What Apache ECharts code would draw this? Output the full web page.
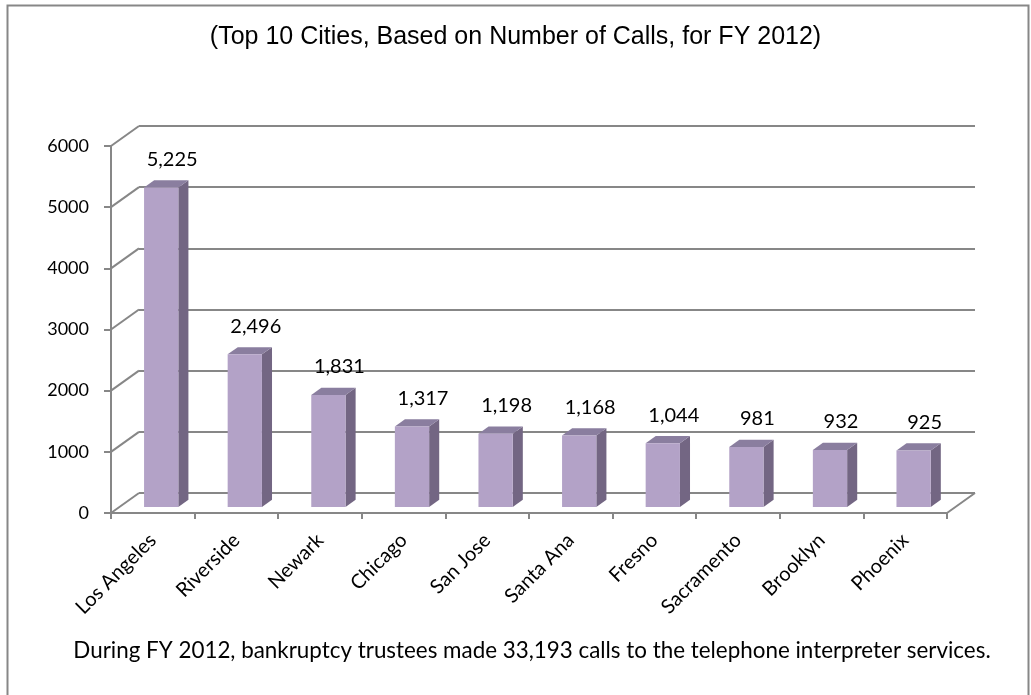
<!DOCTYPE html>
<html>
<head>
<meta charset="utf-8">
<script src="https://cdn.jsdelivr.net/npm/echarts@6/dist/echarts.min.js"></script>
<style>
  html, body { margin: 0; padding: 0; background: #fff; }
  #chart { width: 1031px; height: 695px; }
</style>
</head>
<body>
<div id="chart"></div>
<script>
// Top 10 cities by interpreter calls, FY 2012
const cities = ['Los Angeles', 'Riverside', 'Newark', 'Chicago', 'San Jose',
                'Santa Ana', 'Fresno', 'Sacramento', 'Brooklyn', 'Phoenix'];
const calls = [5225, 2496, 1831, 1317, 1198, 1168, 1044, 981, 932, 925];
const yTicks = [0, 1000, 2000, 3000, 4000, 5000, 6000];
const titleText = '(Top 10 Cities, Based on Number of Calls, for FY 2012)';
const footText = 'During FY 2012, bankruptcy trustees made 33,193 calls to the telephone interpreter services.';

// depth of the pseudo-3D box (back wall offset in px) and where the bars sit inside it
const DX = 28, DY = -20;
const F1 = 0.3, F2 = 0.66;
const LINE = '#878787';
const FONT = 'Lato, "Open Sans", sans-serif';

const chart = echarts.init(document.getElementById('chart'));

function renderBar(params, api) {
  const i = api.value(0), v = api.value(1);
  const base = api.coord([i, 0]);
  const top = api.coord([i, v]);
  const w = api.size([1, 0])[0] * 0.41;
  const ox = DX * F1, oy = DY * F1;
  const sx = DX * (F2 - F1), sy = DY * (F2 - F1);
  const x0 = base[0] + ox - w / 2, x1 = x0 + w;
  const yb = base[1] + oy, yt = top[1] + oy;
  return {
    type: 'group',
    children: [
      { type: 'polygon', shape: { points: [[x1, yt], [x1 + sx, yt + sy], [x1 + sx, yb + sy], [x1, yb]] },
        style: { fill: '#736683' } },
      { type: 'polygon', shape: { points: [[x0, yt], [x1, yt], [x1 + sx, yt + sy], [x0 + sx, yt + sy]] },
        style: { fill: '#8a7e9f' } },
      { type: 'rect', shape: { x: x0, y: yt, width: w, height: yb - yt },
        style: { fill: '#b3a2c7' } },
      { type: 'text', x: x0 + w / 2 + 11, y: yt - 18,
        style: { text: v.toLocaleString('en-US'), fill: '#000', font: '20px ' + FONT,
                 align: 'center', verticalAlign: 'bottom' } }
    ]
  };
}

function renderDepthEdge(params, api) {
  const v = api.value(1);
  const cs = params.coordSys;
  const y = api.coord([0, v])[1];
  const kids = [
    { type: 'line', shape: { x1: cs.x, y1: y, x2: cs.x + DX, y2: y + DY },
      style: { stroke: LINE, lineWidth: 2 } }
  ];
  if (v === 0) {
    const xr = cs.x + cs.width;
    kids.push({ type: 'line', shape: { x1: xr, y1: y, x2: xr + DX, y2: y + DY },
      style: { stroke: LINE, lineWidth: 2 } });
  }
  return { type: 'group', children: kids };
}

chart.setOption({
  animation: false,
  backgroundColor: '#fff',
  title: {
    text: titleText,
    left: 'center',
    top: 20,
    textStyle: { fontFamily: '"Liberation Sans", Arial, sans-serif', fontSize: 25,
                 fontWeight: 'normal', color: '#000' }
  },
  graphic: [
    { type: 'polyline', shape: { points: [[7.5, 695], [7.5, 5.5], [1028.5, 5.5], [1028.5, 695]] },
      style: { stroke: '#878787', lineWidth: 2, fill: null } },
    { type: 'text', x: 532, y: 651,
      style: { text: footText, font: '22.4px ' + FONT, fill: '#000', align: 'center', verticalAlign: 'middle' } }
  ],
  grid: [
    { left: 111, right: 84, top: 146, bottom: 182 },
    { left: 111 + DX, right: 84 - DX, top: 146 + DY, bottom: 182 - DY }
  ],
  xAxis: [
    {
      type: 'category', data: cities, gridIndex: 0,
      axisLine: { lineStyle: { color: LINE, width: 2 } },
      axisTick: { show: true, interval: 0, length: 6, lineStyle: { color: LINE, width: 2 } },
      axisLabel: { interval: 0, rotate: 45, margin: 24, color: '#000', fontSize: 20, fontFamily: FONT },
      splitLine: { show: false }
    },
    { type: 'category', data: cities, gridIndex: 1, show: false }
  ],
  yAxis: [
    {
      type: 'value', gridIndex: 0, min: 0, max: 6000, interval: 1000,
      axisLine: { show: true, lineStyle: { color: LINE, width: 2 } },
      axisTick: { show: true, length: 7, lineStyle: { color: LINE, width: 2 } },
      axisLabel: { margin: 22, color: '#000', fontSize: 18, fontFamily: FONT,
                   formatter: v => String(v) },
      splitLine: { show: false }
    },
    {
      type: 'value', gridIndex: 1, min: 0, max: 6000, interval: 1000,
      axisLine: { show: false }, axisTick: { show: false }, axisLabel: { show: false },
      splitLine: { show: true, lineStyle: { color: LINE, width: 2 } }
    }
  ],
  series: [
    {
      type: 'custom', xAxisIndex: 0, yAxisIndex: 0, silent: true,
      renderItem: renderDepthEdge,
      data: yTicks.map(t => [0, t])
    },
    {
      type: 'custom', xAxisIndex: 0, yAxisIndex: 0, silent: true,
      renderItem: renderBar,
      data: calls.map((c, i) => [i, c]),
      z: 3
    }
  ]
});
</script>
</body>
</html>
